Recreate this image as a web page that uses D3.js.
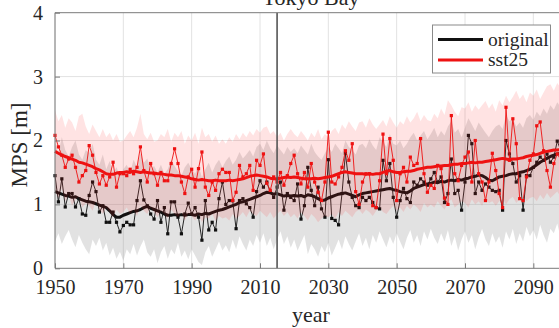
<!DOCTYPE html>
<html><head><meta charset="utf-8">
<script src="https://cdn.jsdelivr.net/npm/d3@7"></script>
<style>html,body{margin:0;padding:0;background:#fff;overflow:hidden}</style>
</head><body>
<svg id="c" width="559" height="328"></svg>
<script>
const yearStart = 1950, yearEnd = 2100;
const xTicks = [1950, 1970, 1990, 2010, 2030, 2050, 2070, 2090];
const yTicks = [0, 1, 2, 3, 4];
const seriesNames = ["original", "sst25"];
const title = "Tokyo Bay";
const markerYear = 2015;

const origAnnual = [
1.45,1.04,1.40,0.96,1.17,1.17,0.96,1.09,0.85,0.83,
1.14,1.35,1.20,0.88,0.98,0.72,0.72,0.88,0.72,0.57,
0.67,0.72,0.68,0.68,1.06,1.37,1.07,0.98,0.85,0.77,
1.06,0.72,0.95,0.54,1.04,1.04,0.80,0.54,0.85,1.02,
0.85,0.95,0.80,0.44,1.06,0.60,0.72,0.60,1.09,1.35,
1.00,1.06,1.06,0.62,1.06,1.09,1.01,0.95,0.80,1.20,
1.37,1.27,1.35,1.19,1.11,1.27,1.35,0.91,1.17,1.11,
1.06,1.32,0.77,0.98,1.58,1.22,0.98,1.27,0.93,0.80,
1.70,0.78,0.75,0.68,1.17,1.80,1.35,1.11,0.98,0.95,
1.11,1.06,1.11,1.03,0.95,0.93,1.69,1.37,1.64,1.11,
0.80,1.06,1.25,1.09,1.03,1.35,1.30,1.40,1.35,1.30,
1.40,1.50,1.35,1.43,1.03,1.17,1.71,1.17,1.22,0.91,
1.35,2.08,1.95,1.17,1.35,1.22,1.32,1.27,1.22,1.20,
1.22,0.91,2.00,1.79,1.64,1.35,1.45,0.91,1.45,1.45,
1.58,1.66,1.74,1.69,1.79,1.66,1.74,1.99,1.85,1.90,1.80];

const sstAnnual = [
2.08,1.90,1.77,1.58,1.71,1.77,1.58,1.35,1.45,1.53,
1.92,1.77,1.50,1.32,1.45,1.30,1.43,1.66,1.27,1.48,
1.48,1.45,1.55,1.48,1.58,1.90,1.53,1.35,1.64,1.48,
1.30,1.50,1.37,1.37,1.64,1.87,1.64,1.35,1.17,1.43,
1.55,1.27,1.56,1.82,1.27,1.14,1.35,1.22,1.48,1.55,
1.50,1.50,1.06,1.19,1.61,1.43,1.48,1.61,1.22,1.69,
1.61,1.79,1.33,1.22,1.43,1.35,1.50,1.30,1.45,1.64,
1.77,1.48,1.32,1.50,1.27,1.64,1.35,1.19,1.06,1.35,
2.13,1.35,1.32,1.43,1.58,1.84,1.69,1.95,1.20,1.00,
1.35,1.48,1.48,0.98,0.95,1.37,2.10,1.48,2.03,1.69,
1.06,1.48,1.58,1.35,1.74,1.61,1.64,2.03,1.48,1.19,
1.30,1.25,1.61,1.56,1.10,1.00,2.39,1.48,1.37,1.61,
1.74,1.82,1.35,2.00,1.48,1.35,1.06,1.35,1.80,1.53,
1.17,0.95,2.52,1.69,2.34,1.95,1.09,1.06,1.43,1.69,
1.79,2.23,2.29,1.84,1.53,1.27,1.64,1.79,1.70,1.95,1.85];

const origSmooth = [
1.20,1.18,1.16,1.14,1.13,1.11,1.12,1.09,1.07,1.05,
1.04,1.03,1.01,0.99,0.97,0.95,0.90,0.84,0.80,0.80,
0.83,0.85,0.87,0.89,0.90,0.92,0.95,0.97,0.94,0.92,
0.90,0.88,0.85,0.83,0.83,0.84,0.83,0.84,0.83,0.84,
0.84,0.83,0.85,0.84,0.86,0.85,0.87,0.89,0.91,0.92,
0.94,0.96,0.98,1.00,1.03,1.04,1.06,1.08,1.10,1.12,
1.14,1.17,1.19,1.18,1.16,1.17,1.15,1.13,1.14,1.13,
1.14,1.13,1.14,1.12,1.15,1.14,1.12,1.09,1.06,1.07,
1.10,1.12,1.14,1.16,1.17,1.18,1.16,1.14,1.12,1.15,
1.17,1.18,1.19,1.20,1.21,1.22,1.23,1.24,1.25,1.23,
1.22,1.20,1.19,1.18,1.21,1.25,1.27,1.29,1.31,1.32,
1.33,1.35,1.34,1.36,1.35,1.37,1.38,1.37,1.39,1.38,
1.40,1.41,1.43,1.44,1.46,1.45,1.42,1.38,1.37,1.40,
1.43,1.44,1.45,1.47,1.48,1.48,1.50,1.51,1.53,1.55,
1.58,1.62,1.66,1.69,1.72,1.75,1.77,1.79,1.80,1.81,1.82];

const sstSmooth = [
1.83,1.80,1.77,1.75,1.73,1.71,1.69,1.66,1.65,1.63,
1.61,1.59,1.56,1.54,1.51,1.48,1.47,1.47,1.49,1.50,
1.50,1.51,1.50,1.52,1.51,1.50,1.51,1.50,1.49,1.49,
1.48,1.48,1.47,1.46,1.46,1.45,1.45,1.44,1.43,1.42,
1.40,1.39,1.38,1.39,1.38,1.37,1.37,1.38,1.37,1.37,
1.37,1.38,1.37,1.38,1.39,1.40,1.42,1.44,1.45,1.46,
1.45,1.44,1.43,1.41,1.40,1.40,1.41,1.42,1.43,1.42,
1.43,1.42,1.41,1.40,1.40,1.40,1.41,1.40,1.41,1.42,
1.43,1.44,1.46,1.48,1.50,1.51,1.50,1.49,1.48,1.48,
1.48,1.47,1.48,1.47,1.48,1.48,1.50,1.52,1.53,1.51,
1.50,1.50,1.51,1.52,1.52,1.53,1.55,1.56,1.57,1.58,
1.58,1.59,1.60,1.60,1.61,1.61,1.62,1.63,1.63,1.64,
1.64,1.65,1.66,1.65,1.66,1.66,1.67,1.68,1.69,1.70,
1.71,1.72,1.71,1.70,1.71,1.71,1.72,1.73,1.75,1.76,
1.77,1.78,1.80,1.82,1.83,1.84,1.85,1.85,1.86,1.86,1.87];

const origLo = [
0.42,0.55,0.38,0.50,0.60,0.45,0.33,0.52,0.40,0.30,
0.22,0.45,0.35,0.48,0.28,0.40,0.20,0.32,0.15,0.26,
0.12,0.30,0.22,0.38,0.20,0.34,0.45,0.25,0.18,0.30,
0.08,0.25,0.35,0.15,0.30,0.22,0.40,0.18,0.28,0.14,
0.30,0.20,0.10,0.05,0.25,0.35,0.18,0.30,0.42,0.28,
0.36,0.25,0.45,0.30,0.50,0.38,0.28,0.45,0.35,0.52,
0.40,0.55,0.35,0.48,0.30,0.45,0.58,0.38,0.50,0.32,
0.45,0.28,0.40,0.52,0.22,0.38,0.30,0.18,0.35,0.25,
0.40,0.20,0.32,0.45,0.30,0.50,0.38,0.28,0.42,0.55,
0.35,0.48,0.30,0.52,0.40,0.58,0.45,0.33,0.50,0.38,
0.55,0.42,0.30,0.48,0.60,0.40,0.52,0.35,0.58,0.45,
0.62,0.48,0.38,0.55,0.42,0.60,0.35,0.50,0.28,0.45,
0.58,0.40,0.52,0.30,0.48,0.62,0.45,0.35,0.55,0.40,
0.50,0.32,0.58,0.45,0.62,0.38,0.55,0.42,0.65,0.50,
0.60,0.45,0.68,0.52,0.40,0.62,0.55,0.70,0.48,0.60,0.65];

const origHi = [
1.95,1.80,2.05,1.85,1.75,1.90,2.00,1.78,1.70,1.85,
1.80,1.95,1.70,1.62,1.78,1.55,1.68,1.50,1.58,1.45,
1.55,1.62,1.50,1.70,1.58,1.80,1.65,1.72,1.55,1.60,
1.50,1.62,1.48,1.55,1.70,1.60,1.52,1.45,1.58,1.65,
1.55,1.48,1.60,1.42,1.55,1.65,1.50,1.62,1.70,1.58,
1.68,1.75,1.62,1.70,1.82,1.72,1.78,1.85,1.75,1.90,
1.95,1.85,2.00,1.88,1.80,1.92,1.85,1.78,1.90,1.82,
1.88,1.80,1.92,1.85,1.78,1.95,1.82,1.75,1.70,1.80,
1.90,1.82,1.95,1.88,1.80,2.00,1.90,1.85,1.78,1.92,
1.95,1.88,2.02,1.92,1.85,2.05,1.98,1.90,2.10,1.95,
1.92,2.00,1.88,1.95,2.05,2.12,2.00,2.08,2.15,2.02,
2.10,2.20,2.05,2.15,2.08,2.22,2.30,2.12,2.18,2.05,
2.20,2.35,2.25,2.15,2.28,2.20,2.12,2.05,2.15,2.22,
2.25,2.18,2.40,2.30,2.35,2.22,2.28,2.20,2.35,2.40,
2.32,2.45,2.38,2.50,2.42,2.55,2.48,2.60,2.52,2.58,2.55];

const sstHi = [
2.47,2.30,2.40,2.20,2.35,2.28,2.15,2.38,2.42,2.22,
2.10,2.25,2.15,2.05,2.18,2.05,2.12,2.00,2.10,1.98,
2.00,2.08,2.15,2.05,2.20,2.42,2.10,2.02,2.12,1.98,
2.00,2.10,2.05,2.18,1.98,2.12,2.05,2.15,1.95,2.08,
2.00,2.12,1.95,2.20,2.05,2.10,1.98,2.08,1.95,2.02,
1.95,2.05,1.98,2.10,2.02,2.12,2.05,2.15,2.08,2.18,
2.12,2.20,2.22,2.10,2.15,2.05,2.12,2.00,2.10,2.18,
2.10,2.05,2.15,2.08,2.00,2.12,2.05,2.18,2.02,2.10,
2.05,2.15,2.20,2.10,2.25,2.18,2.30,2.22,2.15,2.28,
2.30,2.20,2.35,2.25,2.18,2.25,2.32,2.22,2.38,2.28,
2.20,2.30,2.25,2.38,2.28,2.35,2.45,2.30,2.40,2.32,
2.30,2.42,2.35,2.50,2.40,2.63,2.55,2.45,2.38,2.52,
2.50,2.60,2.45,2.55,2.48,2.55,2.62,2.50,2.58,2.45,
2.63,2.55,2.70,2.60,2.68,2.78,2.65,2.72,2.60,2.75,
2.70,2.80,2.65,2.75,2.85,2.88,2.78,2.90,2.82,2.88,2.85];

const sstLo = [
1.20,1.10,1.25,1.05,1.15,0.98,1.08,1.12,0.95,1.02,
0.98,0.90,1.05,0.92,0.85,0.95,0.88,0.80,0.92,0.85,
0.88,0.95,0.85,0.92,0.82,0.98,0.90,0.85,0.95,0.88,
0.80,0.90,0.85,0.78,0.92,0.85,0.80,0.88,0.75,0.85,
0.82,0.75,0.85,0.72,0.80,0.78,0.85,0.74,0.82,0.78,
0.80,0.75,0.85,0.78,0.82,0.88,0.80,0.90,0.85,0.82,
0.90,0.85,0.80,0.88,0.78,0.85,0.90,0.82,0.88,0.80,
0.85,0.78,0.88,0.82,0.75,0.85,0.80,0.72,0.78,0.82,
0.80,0.85,0.78,0.88,0.82,0.90,0.85,0.80,0.88,0.92,
0.85,0.92,0.88,0.82,0.90,0.95,0.88,0.85,0.92,0.98,
0.90,0.95,0.88,0.98,0.92,1.00,0.95,0.88,1.02,0.95,
1.00,0.95,1.05,0.98,0.92,1.02,1.08,0.95,1.00,1.05,
1.02,0.95,1.08,1.00,1.05,0.98,1.10,1.02,1.05,0.98,
1.05,1.10,1.00,1.08,1.12,1.02,1.08,1.15,1.05,1.10,
1.12,1.05,1.15,1.08,1.18,1.10,1.15,1.20,1.12,1.18,1.15];

const years = d3.range(yearStart, yearEnd + 1);

const W = 559, H = 328;
const m = {left: 55, top: 12.7, right: 567.5, bottom: 268.3};
const x = d3.scaleLinear().domain([yearStart, yearEnd]).range([m.left, m.right]);
const y = d3.scaleLinear().domain([0, 4]).range([m.bottom, m.top]);

const svg = d3.select("#c");
const font = "'Liberation Serif','Times New Roman',serif";
const textCol = "#262626";

svg.append("rect").attr("width", W).attr("height", H).attr("fill", "#fff");

// grid
const g = svg.append("g");
g.selectAll(".gx").data(xTicks).join("line")
  .attr("x1", d => x(d)).attr("x2", d => x(d)).attr("y1", m.top).attr("y2", m.bottom)
  .attr("stroke", "#e2e2e2").attr("stroke-width", 1);
g.selectAll(".gy").data(yTicks.filter(d => d > 0 && d < 4)).join("line")
  .attr("x1", m.left).attr("x2", m.right).attr("y1", d => y(d)).attr("y2", d => y(d))
  .attr("stroke", "#e2e2e2").attr("stroke-width", 1);

const dat = (arr) => years.map((yr, i) => ({yr, v: arr[i]}));
const band = (lo, hi) => d3.area().x((d, i) => x(years[i])).y0((d, i) => y(lo[i])).y1((d, i) => y(hi[i]))(years);
const line = d3.line().x(d => x(d.yr)).y(d => y(d.v));

const plot = svg.append("g");

function drawSeries(lo, hi, annual, smooth, col, fill) {
  plot.append("path").attr("d", band(lo, hi)).attr("fill", fill).attr("stroke", "none");
  plot.append("path").attr("d", line(dat(annual))).attr("fill", "none").attr("stroke", col).attr("stroke-width", 0.9);
  plot.append("g").selectAll("rect").data(dat(annual)).join("rect")
    .attr("x", d => x(d.yr) - 1.6).attr("y", d => y(d.v) - 1.6)
    .attr("width", 3.2).attr("height", 3.2).attr("fill", col);
  plot.append("path").attr("d", line(dat(smooth))).attr("fill", "none").attr("stroke", col)
    .attr("stroke-width", 3).attr("stroke-linejoin", "round");
}
drawSeries(origLo, origHi, origAnnual, origSmooth, "#111", "rgba(140,140,140,0.25)");
drawSeries(sstLo, sstHi, sstAnnual, sstSmooth, "#ee1111", "rgba(255,40,40,0.13)");

// vertical marker line
svg.append("line").attr("x1", x(markerYear)).attr("x2", x(markerYear))
  .attr("y1", m.top).attr("y2", m.bottom).attr("stroke", "#555").attr("stroke-width", 1.6);

// axes box
const axCol = "#7a7a7a";
svg.append("line").attr("x1", m.left).attr("x2", m.right).attr("y1", m.bottom).attr("y2", m.bottom).attr("stroke", axCol);
svg.append("line").attr("x1", m.left).attr("x2", m.right).attr("y1", m.top).attr("y2", m.top).attr("stroke", axCol);
svg.append("line").attr("x1", m.left).attr("x2", m.left).attr("y1", m.top).attr("y2", m.bottom).attr("stroke", axCol);

const xAxis = d3.axisBottom(x).tickValues(xTicks).tickFormat(d3.format("d")).tickSizeInner(-5).tickSizeOuter(0).tickPadding(12);
const xg = svg.append("g").attr("transform", `translate(0,${m.bottom})`).call(xAxis);
xg.select(".domain").remove();
xg.selectAll("line").attr("stroke", axCol);
xg.selectAll("text").attr("font-family", font).attr("font-size", 20).attr("fill", textCol);

const yAxis = d3.axisLeft(y).tickValues(yTicks).tickFormat(d3.format("d")).tickSizeInner(-5).tickSizeOuter(0).tickPadding(12);
const yg = svg.append("g").attr("transform", `translate(${m.left},0)`).call(yAxis);
yg.select(".domain").remove();
yg.selectAll("line").attr("stroke", axCol);
yg.selectAll("text").attr("font-family", font).attr("font-size", 20).attr("fill", textCol);

// labels
svg.append("text").attr("x", 22).attr("y", 145).attr("transform", "rotate(-90,22,145)")
  .attr("text-anchor", "middle").attr("dominant-baseline", "middle")
  .attr("font-family", font).attr("font-size", 23).attr("fill", textCol).text("MPS [m]");
svg.append("text").attr("x", 311).attr("y", 322).attr("text-anchor", "middle")
  .attr("font-family", font).attr("font-size", 22).attr("fill", textCol).text("year");
svg.append("text").attr("x", 311).attr("y", 5).attr("text-anchor", "middle")
  .attr("font-family", font).attr("font-size", 22).attr("fill", textCol).text(title);

// legend
const lg = svg.append("g");
lg.append("rect").attr("x", 432.5).attr("y", 25).attr("width", 118).attr("height", 48)
  .attr("fill", "#fff").attr("stroke", "#8a8a8a").attr("stroke-width", 1);
const legCols = ["#111", "#ee1111"];
const legY = [39.5, 60];
seriesNames.forEach((n, i) => {
  lg.append("line").attr("x1", 438).attr("x2", 483).attr("y1", legY[i]).attr("y2", legY[i])
    .attr("stroke", legCols[i]).attr("stroke-width", 3);
  lg.append("text").attr("x", 488).attr("y", legY[i] + 6).attr("font-family", font)
    .attr("font-size", 19.5).attr("fill", textCol).text(n);
});
</script>
</body></html>
